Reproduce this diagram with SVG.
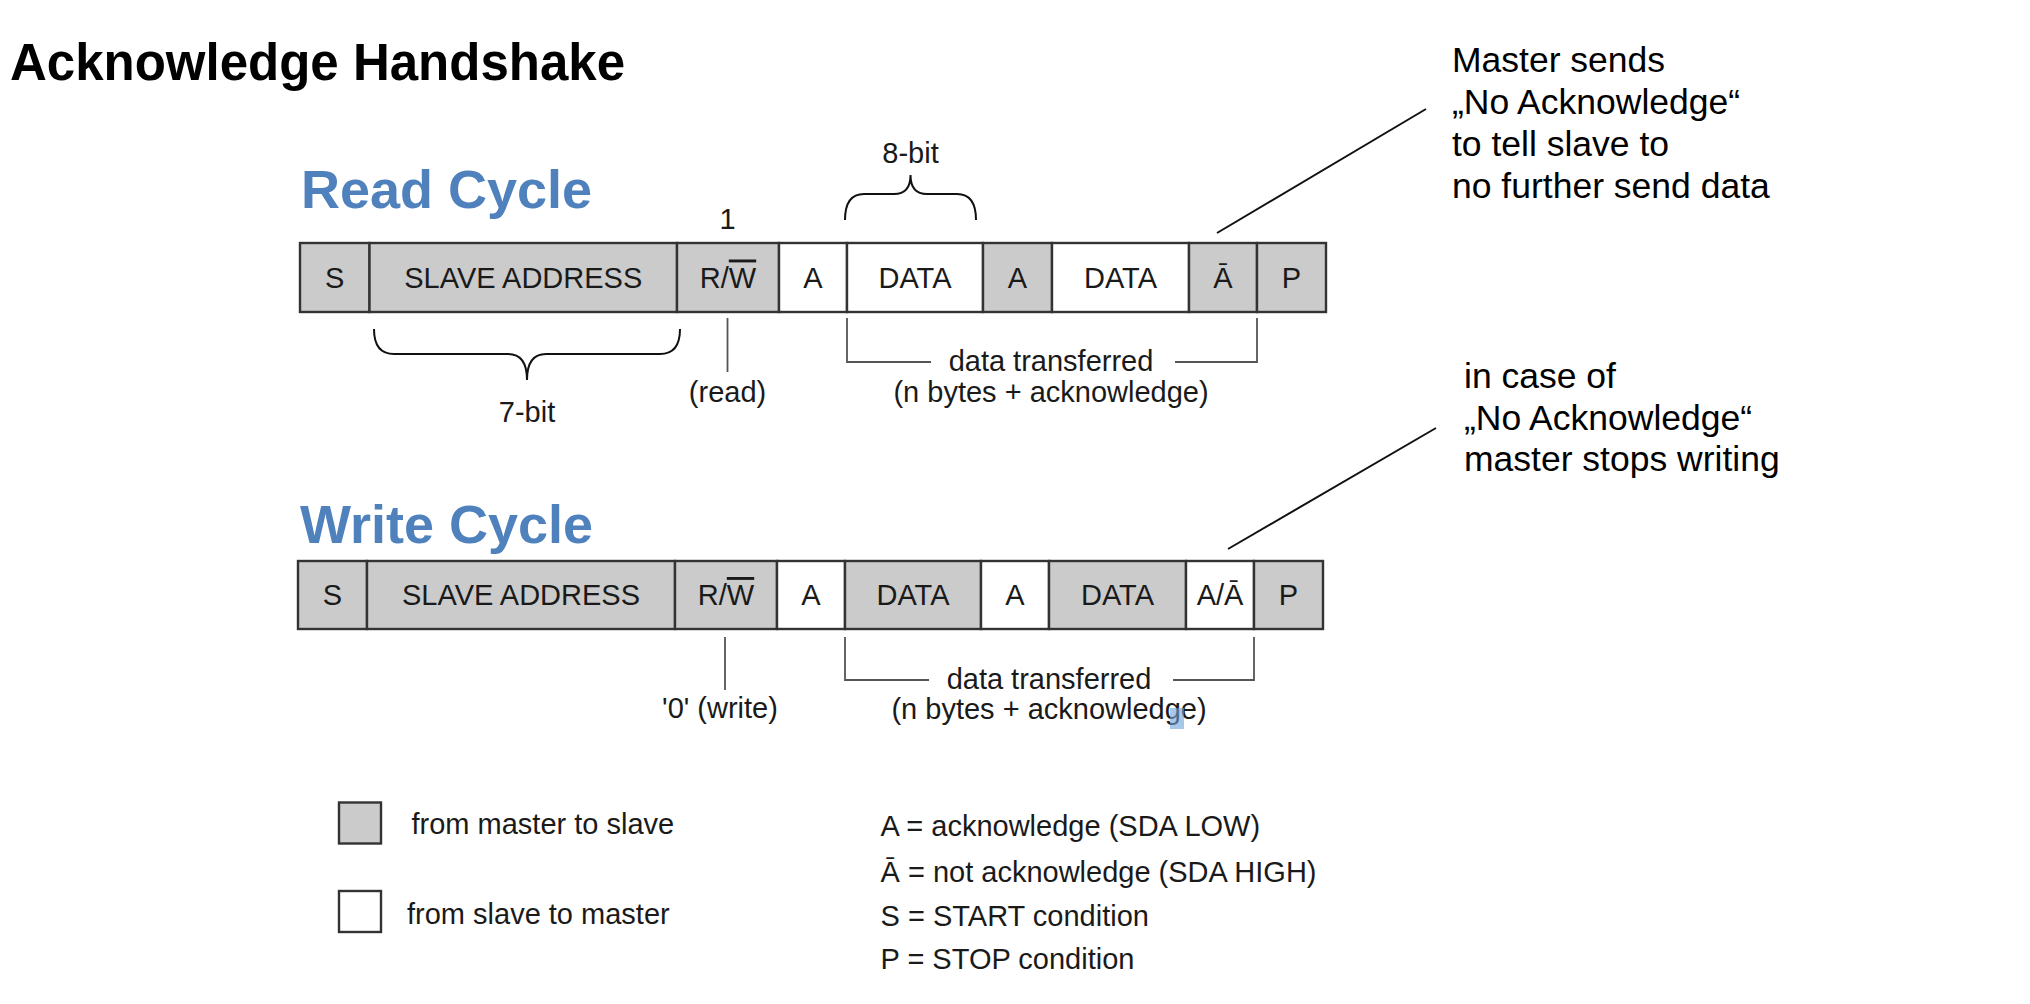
<svg xmlns="http://www.w3.org/2000/svg" width="2030" height="1004" viewBox="0 0 2030 1004">
<style>
text{font-family:"Liberation Sans",Arial,Helvetica,sans-serif;fill:#1a1a1a}
.title{font-weight:bold;font-size:51px;fill:#000}
.cyc{font-weight:bold;font-size:54px;fill:#4f81bd}
.cell{stroke:#333;stroke-width:2.4}
.g{fill:#cbcbcb}
.w{fill:#fff}
.ct{font-size:29px;text-anchor:middle}
.lbl{font-size:29px;text-anchor:middle}
.leg{font-size:29px}
.note{font-size:35.5px;fill:#000}
.br{fill:none;stroke:#555;stroke-width:1.8}
.brace{fill:none;stroke:#111;stroke-width:2}
.call{stroke:#111;stroke-width:2}
.ov{text-decoration:overline}
</style>
<rect width="2030" height="1004" fill="#fff"/>
<text class="title" x="10" y="80">Acknowledge Handshake</text>

<!-- Read cycle -->
<text class="cyc" x="301" y="208">Read Cycle</text>
<g id="read-cycle">
  <g id="r-s"><rect class="cell g" x="300" y="243" width="69.5" height="69"/><text class="ct" x="334.75" y="287.5">S</text></g>
  <g id="r-addr"><rect class="cell g" x="369.5" y="243" width="307.5" height="69"/><text class="ct" x="523.25" y="287.5">SLAVE ADDRESS</text></g>
  <g id="r-rw"><rect class="cell g" x="677" y="243" width="102" height="69"/><text class="ct" x="728" y="287.5">R/<tspan class="ov">W</tspan></text></g>
  <g id="r-a1"><rect class="cell w" x="779" y="243" width="68" height="69"/><text class="ct" x="813" y="287.5">A</text></g>
  <g id="r-d1"><rect class="cell w" x="847" y="243" width="136" height="69"/><text class="ct" x="915" y="287.5">DATA</text></g>
  <g id="r-a2"><rect class="cell g" x="983" y="243" width="69" height="69"/><text class="ct" x="1017.5" y="287.5">A</text></g>
  <g id="r-d2"><rect class="cell w" x="1052" y="243" width="137" height="69"/><text class="ct" x="1120.5" y="287.5">DATA</text></g>
  <g id="r-na"><rect class="cell g" x="1189" y="243" width="68" height="69"/><text class="ct" x="1223" y="287.5">Ā</text></g>
  <g id="r-p"><rect class="cell g" x="1257" y="243" width="69" height="69"/><text class="ct" x="1291.5" y="287.5">P</text></g>
</g>
<g id="read-labels">
  <text class="lbl" x="727.5" y="229">1</text>
  <text class="lbl" x="910.5" y="163">8-bit</text>
  <text class="lbl" x="527" y="422">7-bit</text>
  <text class="lbl" x="727.5" y="402">(read)</text>
  <text class="lbl" x="1051" y="371">data transferred</text>
  <text class="lbl" x="1051" y="402">(n bytes + acknowledge)</text>
</g>

<!-- Write cycle -->
<text class="cyc" x="300" y="543">Write Cycle</text>
<g id="write-cycle">
  <g id="w-s"><rect class="cell g" x="298" y="561" width="69" height="68"/><text class="ct" x="332.5" y="605">S</text></g>
  <g id="w-addr"><rect class="cell g" x="367" y="561" width="308" height="68"/><text class="ct" x="521" y="605">SLAVE ADDRESS</text></g>
  <g id="w-rw"><rect class="cell g" x="675" y="561" width="102" height="68"/><text class="ct" x="726" y="605">R/<tspan class="ov">W</tspan></text></g>
  <g id="w-a1"><rect class="cell w" x="777" y="561" width="68" height="68"/><text class="ct" x="811" y="605">A</text></g>
  <g id="w-d1"><rect class="cell g" x="845" y="561" width="136" height="68"/><text class="ct" x="913" y="605">DATA</text></g>
  <g id="w-a2"><rect class="cell w" x="981" y="561" width="68" height="68"/><text class="ct" x="1015" y="605">A</text></g>
  <g id="w-d2"><rect class="cell g" x="1049" y="561" width="137" height="68"/><text class="ct" x="1117.5" y="605">DATA</text></g>
  <g id="w-ana"><rect class="cell w" x="1186" y="561" width="68" height="68"/><text class="ct" x="1220" y="605">A/Ā</text></g>
  <g id="w-p"><rect class="cell g" x="1254" y="561" width="69" height="68"/><text class="ct" x="1288.5" y="605">P</text></g>
</g>
<g id="write-labels">
  <text class="lbl" x="720" y="718">'0' (write)</text>
  <text class="lbl" x="1049" y="689">data transferred</text>
  <text class="lbl" x="1049" y="719">(n bytes + acknowledge)</text>
</g>

<!-- connectors -->
<g id="connectors">
  <path class="brace" d="M845,220 Q845,194 864,194 L894,194 Q910.5,194 910.5,175 Q910.5,194 927,194 L957,194 Q976,194 976,220"/>
  <path class="brace" d="M374,329 Q374,354 394,354 L508,354 Q527,354 527,380 Q527,354 546,354 L660,354 Q680,354 680,329"/>
  <line class="br" x1="727.5" y1="318" x2="727.5" y2="372"/>
  <polyline class="br" points="847,318 847,362 931,362"/>
  <polyline class="br" points="1175,362 1257,362 1257,318"/>
  <line class="br" x1="725" y1="637" x2="725" y2="690"/>
  <polyline class="br" points="845,637 845,680 929,680"/>
  <polyline class="br" points="1173,680 1254,680 1254,637"/>
  <line class="call" x1="1217" y1="233" x2="1426" y2="109"/>
  <line class="call" x1="1228" y1="549" x2="1436" y2="428"/>
</g>
<rect x="1170" y="708" width="14" height="21" fill="#6fa3d8" opacity="0.6"/>

<g id="note-read">
  <text class="note" x="1452" y="72">Master sends</text>
  <text class="note" x="1452" y="114">„No Acknowledge“</text>
  <text class="note" x="1452" y="156">to tell slave to</text>
  <text class="note" x="1452" y="198">no further send data</text>
</g>
<g id="note-write">
  <text class="note" x="1464" y="388">in case of</text>
  <text class="note" x="1464" y="430">„No Acknowledge“</text>
  <text class="note" x="1464" y="471">master stops writing</text>
</g>

<g id="legend">
  <g id="leg-master"><rect class="cell g" x="339" y="802.5" width="42" height="41"/><text class="leg" x="411.5" y="834">from master to slave</text></g>
  <g id="leg-slave"><rect class="cell w" x="339" y="891" width="42" height="41"/><text class="leg" x="407" y="924">from slave to master</text></g>
  <text class="leg" x="880.5" y="836">A = acknowledge (SDA LOW)</text>
  <text class="leg" x="880.5" y="882">Ā = not acknowledge (SDA HIGH)</text>
  <text class="leg" x="880.5" y="926">S = START condition</text>
  <text class="leg" x="880.5" y="969">P = STOP condition</text>
</g>
</svg>
